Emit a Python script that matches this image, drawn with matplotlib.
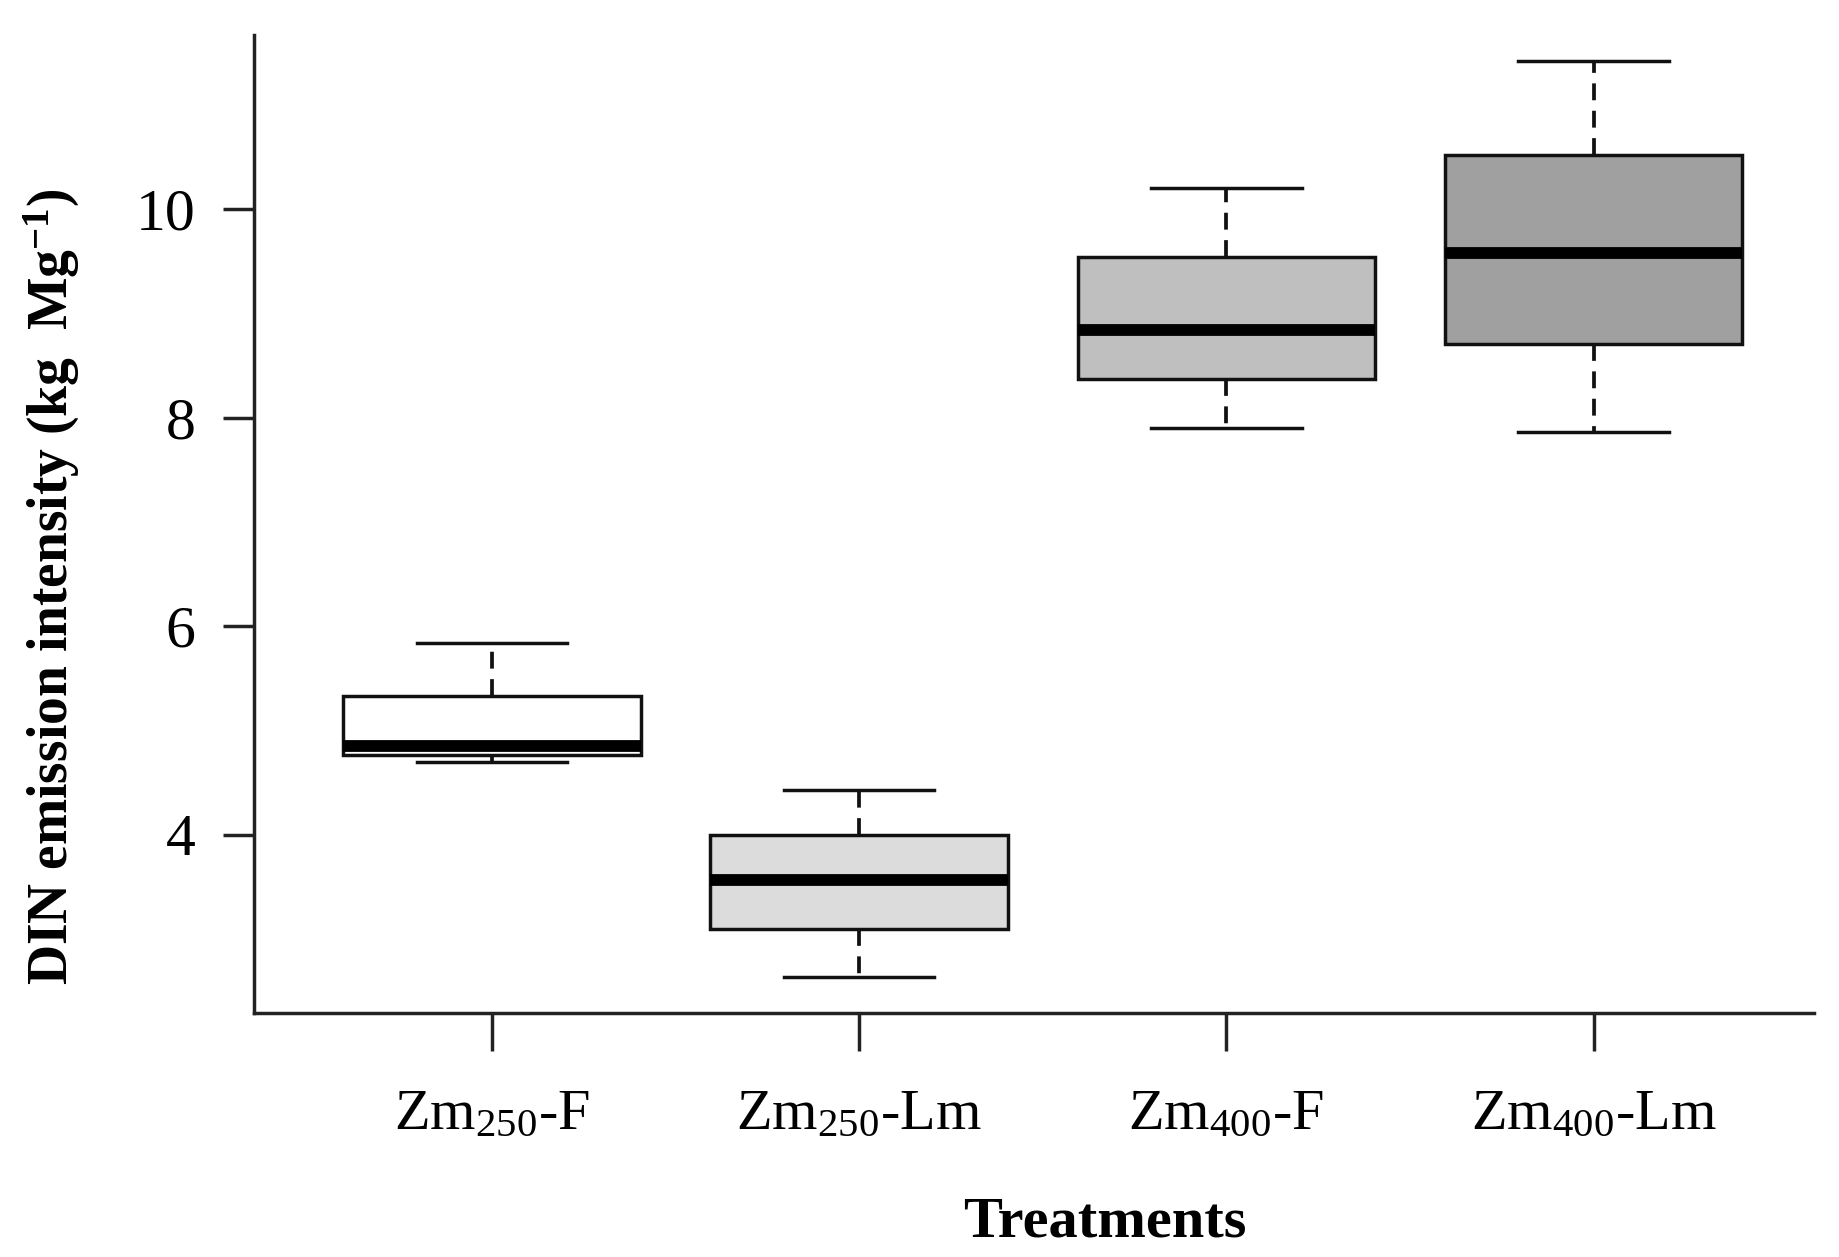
import matplotlib
matplotlib.use("Agg")
import matplotlib.pyplot as plt

plt.rcParams['font.family'] = ['Liberation Serif', 'DejaVu Serif']
plt.rcParams['mathtext.fontset'] = 'custom'
plt.rcParams['mathtext.rm'] = 'Liberation Serif'
plt.rcParams['mathtext.bf'] = 'Liberation Serif:bold'
plt.rcParams['mathtext.it'] = 'Liberation Serif:italic'

categories = [r"Zm$_{250}$-F", r"Zm$_{250}$-Lm", r"Zm$_{400}$-F", r"Zm$_{400}$-Lm"]
whisker_low = [4.70, 2.64, 7.90, 7.86]
q1 = [4.77, 3.10, 8.37, 8.71]
median = [4.85, 3.57, 8.84, 9.58]
q3 = [5.33, 4.00, 9.54, 10.52]
whisker_high = [5.84, 4.43, 10.20, 11.42]
colors = ['#ffffff', '#dcdcdc', '#bfbfbf', '#a0a0a0']
yticks = [4, 6, 8, 10]

stats = []
for i in range(len(categories)):
    stats.append(dict(whislo=whisker_low[i], q1=q1[i], med=median[i],
                      q3=q3[i], whishi=whisker_high[i], fliers=[], label=categories[i]))

fig = plt.figure(figsize=(18.4, 12.57), dpi=100)
ax = fig.add_axes([0.1378, 0.194, 0.8482, 0.778])

positions = [1, 2, 3, 4]
bp = ax.bxp(stats, positions=positions, widths=0.81, patch_artist=True,
            showfliers=False,
            boxprops=dict(linewidth=2.5, edgecolor='#111111'),
            medianprops=dict(linewidth=8.5, color='black', solid_capstyle='butt'),
            whiskerprops=dict(linewidth=2.7, linestyle=(0, (4.5, 2.8)), color='#111111'),
            capprops=dict(linewidth=2.5, color='#111111'),
            capwidths=0.41)
for patch, c in zip(bp['boxes'], colors):
    patch.set_facecolor(c)

ax.set_xlim(0.351, 4.601)
ax.set_ylim(2.29, 11.67)
ax.set_yticks(yticks)
ax.set_yticklabels([str(v) for v in yticks])
ax.set_xticks(positions)
ax.set_xticklabels(categories)

for s in ['top', 'right']:
    ax.spines[s].set_visible(False)
for s in ['left', 'bottom']:
    ax.spines[s].set_linewidth(2.5)
    ax.spines[s].set_color('#222222')

ax.tick_params(axis='y', length=22, width=2.5, labelsize=43, pad=20, color='#222222')
ax.tick_params(axis='x', length=27, width=2.5, labelsize=42, pad=28, color='#222222')

ax.set_ylabel(r"DIN emission intensity (kg  Mg$^{\mathbf{-1}}$)", fontsize=40,
              fontweight='bold')
ax.yaxis.set_label_coords(-0.110, 0.436)
ax.set_xlabel("Treatments", fontsize=42, fontweight='bold')
ax.xaxis.set_label_coords(0.5455, -0.187)

fig.savefig("out.png", dpi=100, facecolor='white')
